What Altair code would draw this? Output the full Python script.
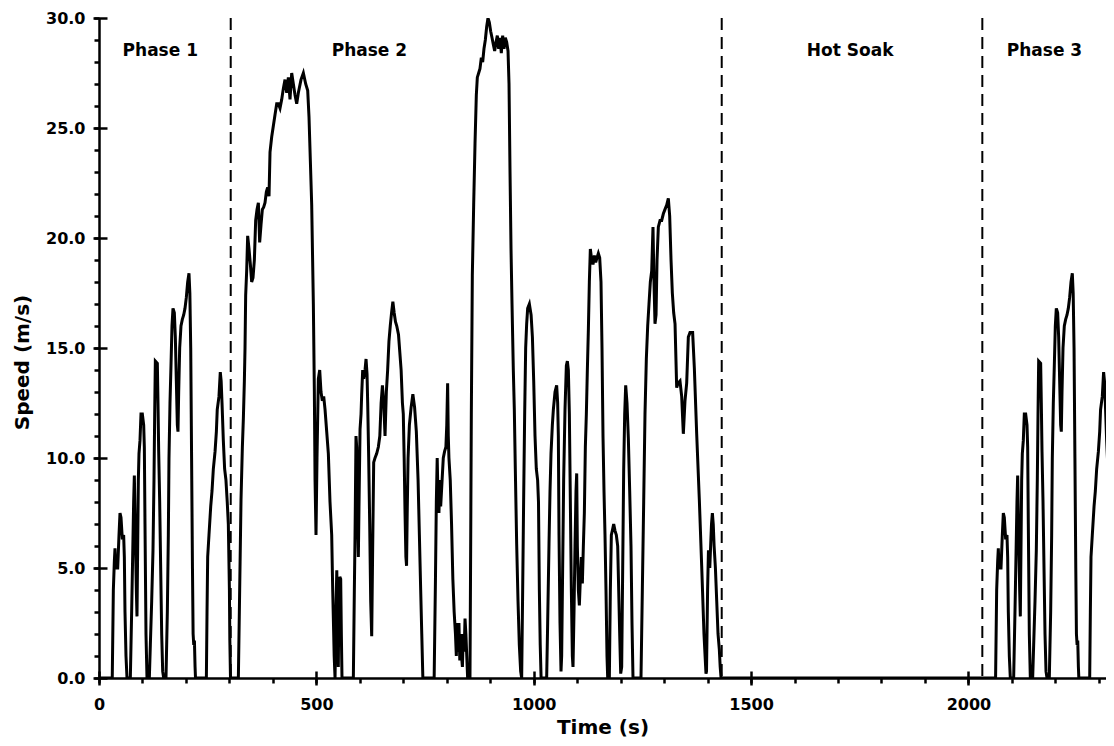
import altair as alt
import pandas as pd

# ---- Phase 1 (also repeated as Phase 3) : time (s), speed (m/s) ----
phase1_t = [0, 30.5, 33, 35.3, 36.8, 38.3, 43, 46, 48.3, 50.6, 53.7, 56.7, 58.3, 59.8, 62.1, 64.4,
            72.1, 75.1, 77.4, 79.7, 81.3, 83.6, 85.9, 87.4, 89, 90.5, 92, 94.3, 96.6, 99.7, 102.8, 104.3, 105.8, 108.1, 110.4,
            115.8, 118.1, 121.2, 124.2, 126.5, 128.1, 129.6, 134.2, 135.7, 137.3, 139.6, 141.9, 144.2, 146.5, 148.8,
            154.1, 157.2, 159.5, 161, 163.3, 165.6, 167.9, 170.2, 173.3, 175.6, 177.9, 180.2, 181.7, 183.3, 185.6, 188.6,
            191.7, 194.8, 197.8, 200.9, 204, 207, 209, 211, 213, 215, 216.5, 218, 219.5, 221, 222,
            247, 248.5, 250, 253, 257, 260, 263, 267, 270, 272, 276, 279, 281, 283, 286, 289, 292, 295, 297.5, 300, 301, 302.5]
phase1_v = [0, 0, 4.0, 5.3, 5.9, 5.0, 5.0, 6.5, 7.5, 7.3, 6.3, 6.5, 5.5, 3.0, 1.0, 0,
            0, 3.0, 5.5, 8.0, 9.2, 6.5, 4.0, 2.8, 6.0, 9.0, 10.2, 10.8, 12.0, 12.0, 11.5, 10.5, 7.0, 2.0, 0,
            0, 1.5, 3.5, 5.8, 9.0, 12.0, 14.4, 14.3, 12.5, 10.3, 8.0, 5.0, 2.0, 0.3, 0,
            0, 3.0, 6.5, 10.0, 12.5, 14.2, 16.0, 16.8, 16.6, 15.5, 13.5, 11.5, 11.2, 13.0, 15.0, 16.0,
            16.3, 16.5, 16.8, 17.3, 18.0, 18.4, 17.5, 15.0, 10.0, 5.0, 2.0, 1.5, 1.7, 0.5, 0,
            0, 3.0, 5.5, 6.5, 7.8, 8.5, 9.5, 10.3, 11.2, 12.2, 12.8, 13.9, 13.5, 12.5, 10.8, 9.5, 9.0, 8.0, 7.0, 4.0, 1.7, 0]

# ---- Phase 2 ----
phase2_t = [320.6, 323.6, 326.7, 329.8, 332.1, 334.4, 335.9, 337.4, 339.7, 342, 345.1, 348.2, 351.2, 354.3, 357.4,
            360.4, 363.5, 366.6, 369.6, 372.7, 375.8, 378.8, 381.9, 385, 388, 391.1, 393.4, 397.3, 401.1, 404.9,
            408.8, 412.6, 416.4, 420.3, 424.1, 427.9, 431.8, 435.6, 439.4, 443.3, 447.1, 450.9, 454.8, 458.6, 464.7,
            470.1, 475.5, 480.1, 483.1, 486.2, 489.3, 493.1, 495.4, 497, 499.2, 501.5, 504.6, 507.7, 510.7, 513.8,
            516.9, 520, 523.8, 527.6, 531.4, 535.3, 537.6, 539.9, 541, 543, 545, 547, 549, 550.5, 552, 554, 556, 557.5, 559,
            585.1, 587.4, 589, 591.2, 592.8, 594.3, 596.6, 598.2, 600.5, 602.8, 604.3, 606.6, 608.9, 612, 614.3,
            616.6, 618.1, 620.4, 622.7, 625, 627.3, 629.6, 631.9, 634.9, 638.8, 642.6, 646, 649, 652, 655, 658,
            661, 664, 667, 670, 673, 676, 679, 682, 685, 689, 692, 695, 698, 700, 702, 704, 706, 707.5, 709, 711,
            714, 718, 722, 726, 730, 734, 737, 740, 742.5, 745,
            771, 774, 776, 778, 780, 782, 784, 786, 789, 792, 795, 798, 800, 802, 803.5, 805, 808, 811, 814, 817,
            820, 822, 824, 826, 828, 830, 832, 834, 836, 838, 840, 842, 844, 846, 848,
            853.4, 855, 856.5, 858.8, 861.9, 865, 868, 870.3, 873.4, 876.4, 879.5, 882.6, 885.6, 888.7, 891.8,
            894.8, 897.9, 901, 904.1, 907.1, 910.2, 913.3, 916.3, 919.4, 922.5, 925.5, 928.6, 931.7, 934.7, 937.8,
            940.9, 943.2, 945.5, 947.8, 950.1, 953.1, 955.4, 957.7, 960.8, 963.9, 966.9, 970, 972.3,
            974.6, 976.9, 979.2, 981.5, 983.8, 986.1, 990, 994, 997, 1000, 1003, 1006, 1009, 1011, 1013, 1015, 1017,
            1029.8, 1032.1, 1035.2, 1037.5, 1039.8, 1042.9, 1045.2, 1049, 1052.8, 1055.1, 1056.7, 1058.2, 1060.5,
            1062.8, 1064.3, 1066.6, 1068.9, 1072, 1075.1, 1077.4, 1079.7, 1082, 1084.3, 1086.6, 1088.9, 1090.4,
            1092.7, 1095, 1097.3, 1098.9, 1100.4, 1102.7, 1105, 1107.3, 1109.6, 1111.9, 1114.2, 1116.5, 1118.8,
            1121.1, 1123.4, 1125.7, 1128, 1130.3, 1133.4, 1136.4, 1139.5, 1142.6, 1145.6, 1148.7, 1151.8, 1154.8,
            1157.1, 1159.4, 1161.7, 1164, 1166.3, 1168.6, 1170.2,
            1174, 1176.3, 1178.6, 1180.9, 1184, 1187, 1190.1, 1193.2, 1195.5, 1197.8, 1200.1, 1202.4, 1204.7, 1207,
            1209.3, 1211.6, 1214.6, 1217.7, 1220.8, 1223.8, 1226.1, 1228.4,
            1246.8, 1249.9, 1253, 1256, 1259.1, 1262.2, 1265.2, 1268.3, 1271.4, 1274.4, 1276.7, 1279, 1281.4,
            1283.7, 1286.7, 1290.6, 1294.4, 1298.2, 1302, 1305.9, 1309.7, 1312.8, 1315.9, 1318.9, 1322, 1325.1,
            1328.9, 1332, 1336.5, 1340.4, 1344.2, 1348, 1351.9, 1355.7, 1359.5, 1365.6, 1369.5, 1374.9, 1381,
            1386.4, 1391.7, 1396.3, 1397.5, 1400, 1402, 1405, 1407, 1409, 1411, 1413, 1415, 1418, 1421, 1424,
            1427, 1429, 1431]
phase2_v = [0, 4.0, 8.1, 10.5, 11.8, 13.5, 15.0, 17.4, 18.5, 20.1, 19.5, 18.8, 18.0, 18.2, 19.0,
            20.8, 21.3, 21.6, 19.8, 20.6, 21.3, 21.4, 21.6, 22.1, 22.3, 21.9, 23.9, 24.6, 25.1, 25.6,
            26.1, 26.1, 25.9, 26.3, 26.8, 27.2, 26.6, 27.3, 26.3, 27.5, 27.0, 26.5, 26.1, 26.6, 27.2,
            27.5, 27.0, 26.7, 25.5, 23.5, 21.5, 17.0, 13.0, 9.0, 6.5, 10.0, 13.6, 14.0, 13.0, 12.6,
            12.8, 12.2, 11.2, 10.2, 8.0, 6.5, 4.0, 2.0, 1.0, 0, 3.0, 4.9, 2.0, 0.5, 4.0, 4.6, 4.5, 2.0, 0,
            0, 4.0, 6.5, 11.0, 10.5, 8.0, 5.5, 8.0, 11.3, 12.0, 12.9, 14.0, 13.6, 14.0, 14.5,
            13.8, 12.5, 10.0, 7.0, 3.5, 1.9, 6.0, 9.8, 10.0, 10.2, 10.5, 11.0, 12.5, 13.3, 12.5, 11.0,
            13.0, 14.0, 15.3, 16.0, 16.6, 17.1, 16.6, 16.2, 16.0, 15.6, 14.8, 14.0, 12.5, 12.0, 10.0, 7.5, 5.5, 5.1, 7.5, 10.0,
            11.5, 12.3, 12.9, 12.3, 11.2, 9.0, 6.5, 4.0, 2.0, 0,
            0, 4.5, 8.0, 10.0, 8.0, 7.5, 9.0, 7.8, 8.9, 10.0, 10.3, 10.5, 11.5, 13.4, 11.0, 10.0, 9.0, 7.0, 4.5, 3.0,
            2.0, 1.0, 2.5, 1.2, 2.5, 0.8, 2.0, 1.0, 0.5, 2.0, 1.2, 2.7, 2.0, 1.0, 0,
            0, 6.0, 12.0, 18.3, 21.5, 24.3, 26.5, 27.3, 27.5, 27.7, 28.2, 28.0, 28.6, 29.0, 29.6,
            30.0, 29.8, 29.4, 29.1, 28.8, 28.5, 28.9, 29.2, 28.6, 29.1, 28.4, 29.2, 28.6, 29.1, 28.9,
            28.5, 27.0, 23.0, 19.5, 17.0, 14.0, 12.2, 9.5, 6.1, 3.5, 1.5, 0.3, 0,
            4.0, 8.2, 12.0, 15.0, 16.1, 16.8, 17.0, 16.5, 15.5, 13.5, 11.0, 9.5, 9.0, 8.0, 4.0, 1.5, 0,
            0, 2.5, 6.1, 8.5, 10.2, 11.5, 12.2, 13.0, 13.3, 12.5, 11.0, 6.5, 2.5,
            0.3, 1.0, 5.0, 9.0, 12.2, 14.2, 14.4, 14.0, 12.0, 8.0, 4.0, 1.0, 0.5,
            3.0, 6.0, 8.5, 9.3, 6.0, 4.0, 3.3, 4.5, 5.5, 4.3, 6.0, 7.5, 10.5,
            12.0, 14.0, 15.8, 18.0, 19.5, 19.0, 18.8, 19.2, 18.9, 19.1, 19.3, 19.1, 18.0,
            15.0, 11.0, 8.5, 6.5, 4.0, 1.0, 0,
            0, 4.0, 6.5, 6.7, 7.0, 6.7, 6.5, 6.0, 4.0, 2.0, 0.2, 0.5, 5.0, 9.5,
            12.0, 13.3, 12.5, 10.9, 8.5, 6.0, 2.5, 0,
            0, 4.0, 8.0, 12.0, 14.5, 16.0, 17.0, 18.0, 18.5, 20.5, 18.0, 16.1, 16.5,
            19.0, 20.5, 20.8, 20.8, 21.1, 21.3, 21.5, 21.8, 21.0, 19.0, 17.5, 16.6, 16.1,
            13.2, 13.4, 13.5, 12.8, 11.1, 12.6, 13.4, 15.5, 15.7, 15.7, 14.1, 11.1, 8.1,
            5.1, 2.0, 0.2, 0.3, 4.0, 5.8, 5.0, 6.0, 7.0, 7.5, 7.0, 6.0, 5.0, 3.5, 2.0,
            1.3, 0.5, 0]

# ---- Hot soak (vehicle stopped) ----
soak_t = [1431, 2032]
soak_v = [0, 0]

# Phase 3 repeats Phase 1, starting at the end of the hot soak
phase3_start = 2032

# ---- Phase boundaries and labels ----
boundary_t = [303, 1432.5, 2032]
label_text = ["Phase 1", "Phase 2", "Hot Soak", "Phase 3"]
label_t = [141, 622, 1728, 2175]
label_v = [28.5, 28.5, 28.5, 28.5]

# ---- Axis ticks ----
x_ticks = list(range(0, 2301, 100))
x_major = [0, 500, 1000, 1500, 2000]
y_ticks = list(range(0, 31))
y_major = [0, 5, 10, 15, 20, 25, 30]

t_all = phase1_t + phase2_t + soak_t + [t + phase3_start for t in phase1_t]
v_all = phase1_v + phase2_v + soak_v + phase1_v
speed = pd.DataFrame({"t": t_all, "v": v_all})
bounds = pd.DataFrame({"t": boundary_t})
labels = pd.DataFrame({"t": label_t, "v": label_v, "text": label_text})

# visible part of the time axis (same px-per-second as the original, cut at the page edge)
xscale = alt.Scale(domain=[0, 2316.5], nice=False, zero=False)
yscale = alt.Scale(domain=[0, 30], nice=False, zero=False)

line = alt.Chart(speed).mark_line(color="black", strokeWidth=3, clip=True).encode(
    x=alt.X("t:Q", scale=xscale,
            axis=alt.Axis(values=x_ticks, orient="bottom", title="Time (s)", format="d",
                          labelExpr="datum.value % 500 === 0 ? datum.label : ''",
                          tickSize=5, labelPadding=13, titlePadding=5,
                          labelOverlap=False, labelFlush=False, grid=False)),
    y=alt.Y("v:Q", scale=yscale,
            axis=alt.Axis(values=y_ticks, orient="left", title="Speed (m/s)", format=".1f",
                          labelExpr="datum.value % 5 === 0 ? datum.label : ''",
                          tickSize=5, labelPadding=9, titlePadding=13, titleY=344,
                          labelOverlap=False, grid=False)),
    order="t:Q",
)

rules = alt.Chart(bounds).mark_rule(color="black", strokeWidth=2, strokeDash=[12, 7]).encode(
    x=alt.X("t:Q", scale=xscale,
            axis=alt.Axis(values=x_major, orient="bottom", labels=False, domain=False,
                          tickSize=14, offset=-7, title=None, grid=False)),
)

texts = alt.Chart(labels).mark_text(font="DejaVu Sans", fontWeight="bold", fontSize=17,
                                    color="black", align="center", baseline="middle").encode(
    x=alt.X("t:Q", scale=xscale, axis=None),
    y=alt.Y("v:Q", scale=yscale,
            axis=alt.Axis(values=y_major, orient="left", labels=False, domain=False,
                          tickSize=14, offset=-8, title=None, grid=False)),
    text="text:N",
)

chart = alt.layer(line, rules, texts).resolve_axis(
    x="independent", y="independent"
).properties(
    width=1007, height=660,
    autosize=alt.AutoSizeParams(type="none"),
    padding={"left": 91, "top": 10, "right": 0, "bottom": 60},
).configure_axis(
    labelFont="DejaVu Sans", labelFontWeight="bold", labelFontSize=16, labelColor="black",
    titleFont="DejaVu Sans", titleFontWeight="bold", titleFontSize=20, titleColor="black",
    domainColor="black", domainWidth=2.5, tickColor="black", tickWidth=2.5,
).configure_view(stroke=None)

chart.save("out.html", embed_options={"renderer": "svg", "actions": False})
